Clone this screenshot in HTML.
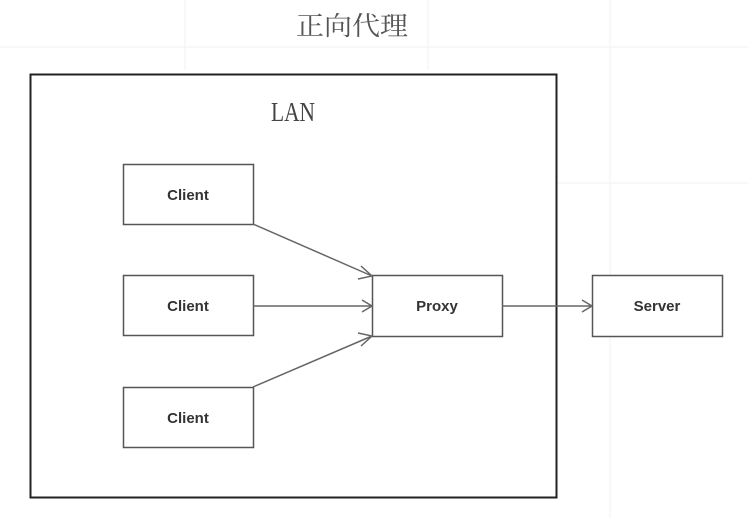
<!DOCTYPE html>
<html><head><meta charset="utf-8"><style>body{margin:0;background:#fff}</style></head><body>
<svg width="748" height="518" xmlns="http://www.w3.org/2000/svg">
<rect width="748" height="518" fill="#fff"/>
<g stroke="#f2f2f2" stroke-width="1">
<line x1="0" y1="47" x2="748" y2="47"/>
<line x1="556" y1="183" x2="748" y2="183"/>
<line x1="610" y1="0" x2="610" y2="518"/>
<line x1="428" y1="0" x2="428" y2="70"/>
<line x1="185" y1="0" x2="185" y2="70"/>
</g>
<text x="352" y="35" font-family="'Liberation Serif','Noto Serif CJK SC',serif" font-size="26" fill="#555" text-anchor="middle" textLength="112" lengthAdjust="spacingAndGlyphs">正向代理</text>
<rect x="30.5" y="74.5" width="526" height="423" fill="none" stroke="#222" stroke-width="2"/>
<text x="293" y="121" font-family="'Liberation Serif',serif" font-size="27" fill="#444" text-anchor="middle" textLength="44" lengthAdjust="spacingAndGlyphs">LAN</text>
<g fill="#fff" stroke="#555" stroke-width="1.5">
<rect x="123.5" y="164.5" width="130" height="60"/>
<rect x="123.5" y="275.5" width="130" height="60"/>
<rect x="123.5" y="387.5" width="130" height="60"/>
<rect x="372.5" y="275.5" width="130" height="61"/>
<rect x="592.5" y="275.5" width="130" height="61"/>
</g>
<g stroke="#666" stroke-width="1.5" fill="none">
<line x1="253" y1="224" x2="372" y2="276"/>
<line x1="253" y1="306" x2="372" y2="306"/>
<line x1="253" y1="387" x2="372" y2="336"/>
<line x1="502" y1="306" x2="592" y2="306"/>
<polyline points="361,266 372,276 358,279"/>
<polyline points="362,300 372,306 362,312"/>
<polyline points="358,333 372,336 361,346"/>
<polyline points="582,300 592,306 582,312"/>
</g>
<g font-family="'Liberation Sans',sans-serif" font-size="15" font-weight="bold" fill="#333" text-anchor="middle">
<text x="188" y="200">Client</text>
<text x="188" y="311">Client</text>
<text x="188" y="423">Client</text>
<text x="437" y="311">Proxy</text>
<text x="657" y="311">Server</text>
</g>
</svg>
</body></html>
